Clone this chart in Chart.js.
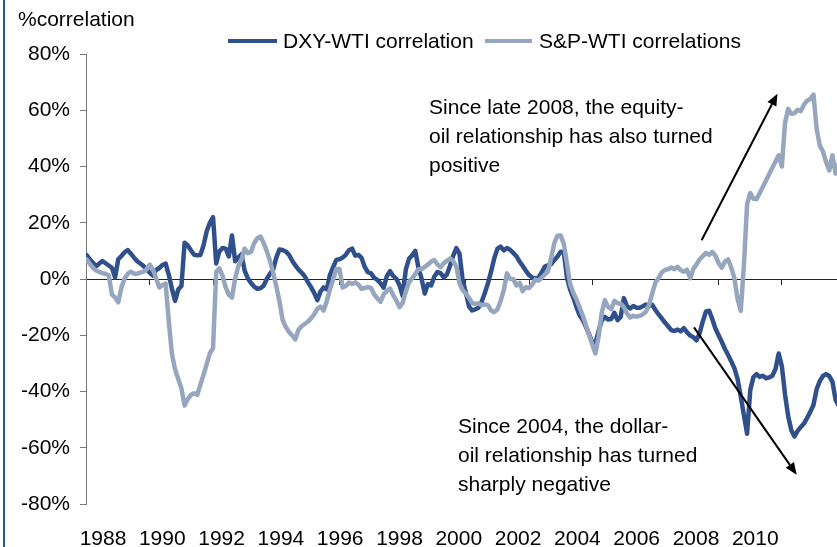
<!DOCTYPE html>
<html>
<head>
<meta charset="utf-8">
<script src="https://cdn.jsdelivr.net/npm/chart.js@4.4.1/dist/chart.umd.min.js"></script>
<style>
  html, body { margin: 0; padding: 0; background: #fff; }
  #wrap { position: relative; width: 837px; height: 547px; overflow: hidden;
          font-family: "Liberation Sans", Arial, sans-serif; color: #000; }
  #wrap canvas { position: absolute; left: 0; top: 0; }
  .frame { position: absolute; left: 3px; top: 0; width: 2px; height: 547px; background: #2a52a4; }
  .txt { position: absolute; font-size: 21px; line-height: 24px; white-space: nowrap; }
  .note { position: absolute; font-size: 21px; line-height: 29px; white-space: nowrap; }
  .key { position: absolute; top: 39px; height: 4px; }
</style>
</head>
<body>
<div id="wrap">
  <canvas id="chart" width="837" height="547"></canvas>
  <div class="frame"></div>
  <div class="txt" style="left:18px;top:7px">%correlation</div>
  <div class="key" id="key0" style="left:228px;width:49px"></div>
  <div class="txt" id="name0" style="left:283px;top:29px"></div>
  <div class="key" id="key1" style="left:485px;width:47px"></div>
  <div class="txt" id="name1" style="left:539px;top:29px"></div>
  <div class="note" style="left:429px;top:92px">Since late 2008, the equity-<br>oil relationship has also turned<br>positive</div>
  <div class="note" style="left:458px;top:411px">Since 2004, the dollar-<br>oil relationship has turned<br>sharply negative</div>
</div>
<script>
// sample grid: one value every 0.1 year from 1988.0
const startYear = 1988;
const stepYears = 0.1;

const seriesNames = ["DXY-WTI correlation", "S&P-WTI correlations"];
const seriesColors = ["#30508c", "#96a6be"];

// DXY-WTI correlation, %
const dxyWti = [
  8.5, 7, 5.8, 4.5, 5.5, 6.4, 5.6, 4.8, 4, 0.5,
  7, 8.2, 9.5, 10.3, 9, 7.6, 6.3, 5.5, 4.6, 3.4,
  2.2, 1.2, 3.2, 3.9, 5, 5.5, 1.5, -3.5, -7.8, -3.7,
  -2.5, 12.9, 11.9, 10.2, 8.6, 8.4, 8.5, 12, 17, 20,
  22, 5.5, 9.8, 11, 10.8, 8, 15.5, 6.3, 7.6, 8.8,
  3, 0.3, -1.4, -2.7, -3.5, -3.3, -2.4, 0, 1.8, 3.3,
  7.5, 10.5, 10.3, 9.8, 8.7, 6.6, 4.9, 3.4, 2.3, 1,
  -1.1, -2.9, -4.9, -7.5, -4.5, -3, -3.7, 1.5, 4.2, 6.8,
  7, 7.6, 8.6, 10.2, 10.8, 8.3, 8.6, 7.5, 4.3, 2.4,
  2, 0.4, -0.3, -1.5, -3.1, 1, 2.8, 1.1, 0.1, -2.2,
  -6, 3.3, 7.2, 8.4, 10, 4, 0.1, -5.2, -1.8, -2.3,
  0.8, 2.5, 2.1, 0.6, 1.6, 4.7, 8.3, 11, 9, -0.5,
  -4.8, -9.8, -11.2, -10.8, -10.2, -8.1, -5, -1.5, 2.7, 7.4,
  10.8, 11.5, 10.2, 11, 10.4, 9.3, 8.1, 6.2, 4.6, 2.9,
  1.4, 0.5, 0.1, 0.5, 2.3, 4.4, 4.9, 5.3, 6.7, 8,
  9.7, 9.5, 0.5, -3.8, -6.6, -10, -12.9, -14.6, -17, -19.6,
  -22.5, -22.8, -18.5, -14.8, -13.5, -14.4, -14.2, -12, -14.6, -13.5,
  -6.8, -9.7, -10.5, -9.6, -10.2, -10.2, -9.7, -9.1, -9.5, -9.2,
  -11, -12.6, -14, -15.5, -16.8, -18.2, -18.5, -18, -18.6, -17.5,
  -19, -20.1, -20.7, -21.8, -19.2, -15, -11.5, -11.3, -14.3, -17.7,
  -20, -22.4, -24.9, -27, -29.3, -31.8, -35.6, -41.8, -48.5, -55,
  -39.5, -34.9, -33.8, -34.8, -34.4, -35.3, -35, -34.4, -32, -26.5,
  -31, -41, -48.8, -53.8, -56, -54, -52.6, -51.4, -49.4, -47.2,
  -44.8, -39.2, -36.3, -34.5, -33.8, -34.5, -36.5, -43, -45
];

// S&P-WTI correlation, %
const spWti = [
  7, 5.4, 4, 3, 2.5, 2.1, 1.8, 1.3, -5.5, -6.6,
  -8.3, -3, 0.2, 1.8, 2.6, 1.9, 1.9, 2.3, 2.6, 3.5,
  5.1, 3.4, 0.2, -3, -2.2, -1.6, -15, -26.7, -32.2, -35.6,
  -38.9, -45, -42.7, -41.2, -40.6, -41.2, -37.6, -34, -30.3, -26.4,
  -24.6, 2.5, 3.8, 1.1, -3, -5.6, -6.6, 0.2, 4.6, 6.9,
  10.8, 9.2, 9.6, 12.7, 14.5, 15.1, 12.8, 9.9, 6.5, 2.3,
  -2.5, -7.8, -14.5, -17, -18.8, -20, -21.5, -18.2, -16.8, -16,
  -15.2, -14, -12.6, -10.6, -9.8, -11.2, -7.8, -3.7, -0.2, 3.6,
  3.6, -3, -2.5, -1.3, -1.8, -1.2, -2, -3.5, -3.2, -2.9,
  -3.2, -5.5, -6.9, -8.1, -5.4, -4.3, -3.4, -5.7, -7.6, -10,
  -8.5, -4.5, -1.2, 0.2, 1.7, 3.5, 3.5, 4.3, 5.1, 6.2,
  6.7, 5.2, 4.2, 5.6, 6.5, 7.3, 6.4, 4.4, -1.6, -4,
  -5.2, -6.7, -8.6, -8.8, -8.7, -9.3, -9, -9.3, -11.2, -11.8,
  -10.8, -7.8, -4, 2, 0, 0, -2.3, -1.4, -4.3, -2.9,
  -3.2, -2, -0.2, -0.6, 0.5, 1.6, 2.7, 7.5, 12.8, 15.4,
  15.5, 12.5, 5.5, -1.8, -4.9, -7.3, -10.1, -13, -16.5, -19.8,
  -23.3, -26.5, -20.5, -12, -7.5, -9.9, -10.7, -7.8, -8.6, -8.8,
  -10, -12.3, -13.7, -13.1, -13.4, -13.1, -12.6, -11.6, -9.1, -5,
  -1.2, 0.3, 2.4, 3.2, 3.5, 4.1, 3.5, 4.3, 3.1, 2.6,
  3.3, 0.3, 3.6, 5.2, 7, 8.1, 9.3, 8.6, 9.6, 8.2,
  5.6, 4, 6.2, 7, 4, 0.2, -7.2, -11.3, 5, 26.6,
  30.6, 28.5, 28.4, 30.6, 32.8, 35, 37.3, 39.6, 41.8, 44,
  40, 55.5, 60.5, 58.7, 58.9, 60.2, 59.7, 62, 63.4, 64,
  65.6, 53.5, 47.5, 45.3, 41.6, 38.6, 44, 37.5, 41
];

const years = dxyWti.map((_, i) => +(startYear + i * stepYears).toFixed(1));

const xTickYears = [1988, 1990, 1992, 1994, 1996, 1998, 2000, 2002, 2004, 2006, 2008, 2010];
const yTickValues = [-80, -60, -40, -20, 0, 20, 40, 60, 80];
// data axis range (years)
const xMin = 1987.98;
const xMax = 2011.745;
// the label row of the original is spaced a little tighter than the data axis
const labelMin = 1987.427;
const labelMax = 2012.756;

// annotation arrows, in [year, %]
const arrows = [
  { from: [2007.46, 13.8], to: [2009.86, 65.9] },
  { from: [2007.22, -17.2], to: [2010.47, -69.6] },
];

const font = { family: "'Liberation Sans', Arial, sans-serif", size: 21 };

// legend keys (html)
seriesNames.forEach((name, i) => {
  document.getElementById("key" + i).style.background = seriesColors[i];
  document.getElementById("name" + i).textContent = name;
});

const arrowPlugin = {
  id: "arrows",
  afterDatasetsDraw(chart) {
    const { ctx } = chart;
    const sx = chart.scales.x, sy = chart.scales.y;
    ctx.save();
    ctx.strokeStyle = "#000";
    ctx.fillStyle = "#000";
    ctx.lineWidth = 2;
    arrows.forEach((a) => {
      const x1 = sx.getPixelForValue(a.from[0]), y1 = sy.getPixelForValue(a.from[1]);
      const x2 = sx.getPixelForValue(a.to[0]), y2 = sy.getPixelForValue(a.to[1]);
      const ang = Math.atan2(y2 - y1, x2 - x1);
      const head = 12, half = 5;
      const bx = x2 - head * Math.cos(ang), by = y2 - head * Math.sin(ang);
      ctx.beginPath();
      ctx.moveTo(x1, y1);
      ctx.lineTo(bx, by);
      ctx.stroke();
      ctx.beginPath();
      ctx.moveTo(x2, y2);
      ctx.lineTo(bx - half * Math.sin(ang), by + half * Math.cos(ang));
      ctx.lineTo(bx + half * Math.sin(ang), by - half * Math.cos(ang));
      ctx.closePath();
      ctx.fill();
    });
    ctx.restore();
  },
};

const ctx = document.getElementById("chart").getContext("2d");
new Chart(ctx, {
  type: "line",
  data: {
    labels: years,
    datasets: [
      {
        label: seriesNames[0],
        data: dxyWti,
        xAxisID: "x",
        borderColor: seriesColors[0],
        borderWidth: 4.5,
        borderJoinStyle: "round",
        borderCapStyle: "round",
        pointRadius: 0,
        tension: 0,
        order: 1,
      },
      {
        label: seriesNames[1],
        data: spWti,
        xAxisID: "x",
        borderColor: seriesColors[1],
        borderWidth: 4.5,
        borderJoinStyle: "round",
        borderCapStyle: "round",
        pointRadius: 0,
        tension: 0,
        order: 0,
      },
    ],
  },
  options: {
    responsive: false,
    animation: false,
    devicePixelRatio: 1,
    layout: { padding: { top: 54, right: 0, bottom: 0, left: 0 } },
    plugins: {
      legend: { display: false },
      tooltip: { enabled: false },
    },
    scales: {
      x: {
        type: "linear",
        display: false,
        min: xMin,
        max: xMax,
      },
      xLabels: {
        type: "linear",
        axis: "x",
        position: "bottom",
        min: labelMin,
        max: labelMax,
        afterBuildTicks: (s) => { s.ticks = xTickYears.map((v) => ({ value: v })); },
        afterFit: (s) => { s.height = 43; },
        grid: { display: false, drawTicks: false },
        border: { display: false },
        ticks: {
          padding: 23,
          color: "#000",
          font: font,
          maxRotation: 0,
          autoSkip: false,
          callback: (v) => String(v),
        },
      },
      xZero: {
        type: "linear",
        axis: "x",
        position: { y: 0 },
        min: xMin,
        max: xMax,
        afterBuildTicks: (s) => { s.ticks = xTickYears.map((v) => ({ value: v })); },
        grid: { drawOnChartArea: false, drawTicks: true, tickLength: 5, tickColor: "#222" },
        border: { display: true, color: "#222", width: 1 },
        ticks: { display: false },
      },
      y: {
        min: -80,
        max: 80,
        afterBuildTicks: (s) => { s.ticks = yTickValues.map((v) => ({ value: v })); },
        afterFit: (s) => { s.width = 86; },
        grid: { drawOnChartArea: false, drawTicks: true, tickLength: 6, tickColor: "#777" },
        border: { color: "#777", width: 1 },
        ticks: {
          padding: 10,
          color: "#000",
          font: font,
          callback: (v) => v + "%",
        },
      },
    },
  },
  plugins: [arrowPlugin],
});
</script>
</body>
</html>
